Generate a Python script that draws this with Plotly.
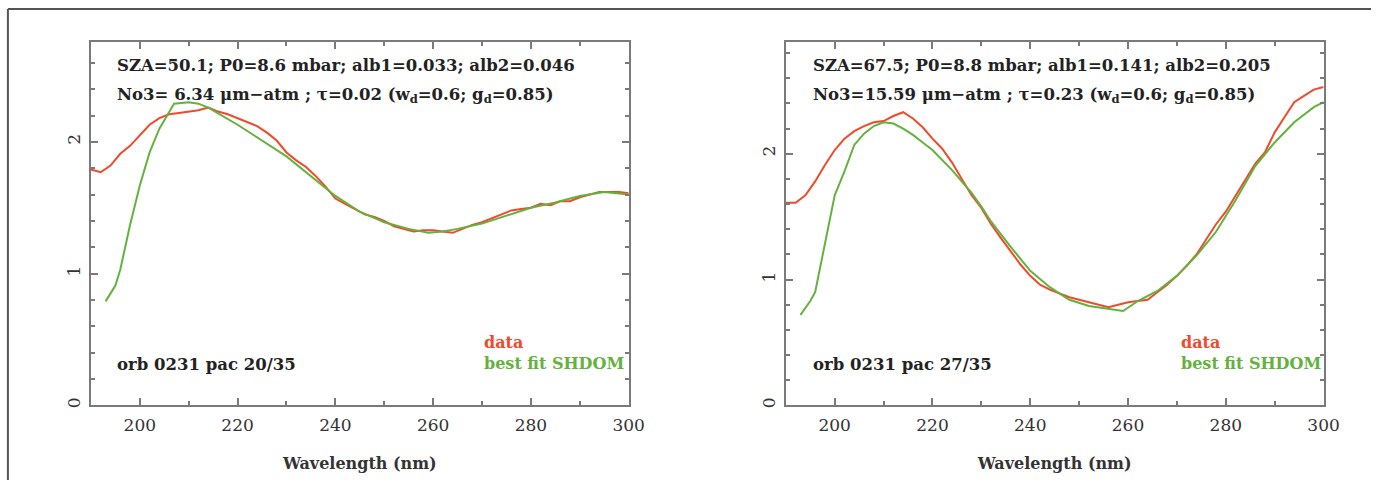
import plotly.graph_objects as go

# ---- Panel A: orb 0231 pac 20/35 ----
wl_data_a = [190, 192, 194, 196, 198, 200, 202, 204, 206, 208, 210, 212, 214, 216, 218, 220,
             222, 224, 226, 228, 230, 232, 234, 236, 238, 240, 242, 244, 246, 248, 250, 252,
             254, 256, 258, 260, 262, 264, 266, 268, 270, 272, 274, 276, 278, 280, 282, 284,
             286, 288, 290, 292, 294, 296, 298, 300]
val_data_a = [1.79, 1.77, 1.82, 1.91, 1.97, 2.05, 2.13, 2.18, 2.21, 2.22, 2.23, 2.24, 2.26, 2.23,
              2.21, 2.18, 2.15, 2.12, 2.07, 2.01, 1.92, 1.86, 1.81, 1.74, 1.66, 1.57, 1.53, 1.49,
              1.45, 1.43, 1.40, 1.36, 1.34, 1.32, 1.33, 1.33, 1.32, 1.31, 1.34, 1.37, 1.39, 1.42,
              1.45, 1.48, 1.49, 1.50, 1.53, 1.52, 1.55, 1.55, 1.58, 1.60, 1.62, 1.62, 1.62, 1.61]
wl_fit_a = [193, 195, 196, 198, 200, 202, 204, 206, 207, 210, 212, 214, 220, 230, 240, 245,
            250, 255, 259, 262, 265, 270, 275, 280, 285, 290, 295, 300]
val_fit_a = [0.79, 0.91, 1.03, 1.37, 1.67, 1.92, 2.10, 2.22, 2.29, 2.30, 2.29, 2.26, 2.13, 1.89,
             1.59, 1.47, 1.39, 1.34, 1.31, 1.32, 1.34, 1.38, 1.44, 1.50, 1.54, 1.59, 1.62, 1.60]

# ---- Panel B: orb 0231 pac 27/35 ----
wl_data_b = [190, 192, 194, 196, 198, 200, 202, 204, 206, 208, 210, 212, 214, 216, 218, 220,
             222, 224, 226, 228, 230, 232, 234, 236, 238, 240, 242, 244, 246, 248, 250, 252,
             254, 256, 258, 260, 262, 264, 266, 268, 270, 272, 274, 276, 278, 280, 282, 284,
             286, 288, 290, 292, 294, 296, 298, 300]
val_data_b = [1.61, 1.61, 1.67, 1.78, 1.91, 2.03, 2.12, 2.18, 2.22, 2.25, 2.26, 2.30, 2.33, 2.28,
              2.21, 2.12, 2.04, 1.93, 1.80, 1.67, 1.57, 1.44, 1.33, 1.22, 1.12, 1.03, 0.96, 0.92,
              0.89, 0.86, 0.84, 0.82, 0.80, 0.78, 0.80, 0.82, 0.83, 0.84, 0.90, 0.96, 1.03, 1.11,
              1.20, 1.32, 1.44, 1.54, 1.67, 1.79, 1.92, 2.01, 2.17, 2.29, 2.41, 2.46, 2.51, 2.53]
wl_fit_b = [193, 195, 196, 198, 200, 202, 204, 206, 208, 210, 212, 214, 216, 218, 220, 224,
            228, 230, 232, 236, 240, 244, 248, 252, 256, 259, 262, 266, 270, 274, 278, 282,
            286, 290, 294, 298, 300]
val_fit_b = [0.72, 0.83, 0.90, 1.30, 1.67, 1.86, 2.07, 2.16, 2.22, 2.25, 2.24, 2.20, 2.15, 2.09,
             2.03, 1.87, 1.69, 1.58, 1.46, 1.26, 1.07, 0.94, 0.84, 0.79, 0.77, 0.75, 0.83, 0.91,
             1.03, 1.19, 1.38, 1.63, 1.90, 2.09, 2.25, 2.37, 2.41]

y_max = [2.76, 2.89]

W, H = 1387, 483
RED = "#ef4a2b"
GREEN = "#63b23d"
AXIS_GRAY = "#7a7a7a"
TEXT_FONT = "DejaVu Serif"

fig = go.Figure()

panels = [
    dict(xa="x", ya="y", wd=wl_data_a, vd=val_data_a, wf=wl_fit_a, vf=val_fit_a),
    dict(xa="x2", ya="y2", wd=wl_data_b, vd=val_data_b, wf=wl_fit_b, vf=val_fit_b),
]
for p in panels:
    fig.add_trace(go.Scatter(x=p["wd"], y=p["vd"], mode="lines", xaxis=p["xa"], yaxis=p["ya"],
                             line=dict(color=RED, width=2), showlegend=False))
    fig.add_trace(go.Scatter(x=p["wf"], y=p["vf"], mode="lines", xaxis=p["xa"], yaxis=p["ya"],
                             line=dict(color=GREEN, width=2), showlegend=False))

y_dom = [1 - 408 / H, 1 - 42 / H]
x_doms = [[92 / W, 636 / W], [795 / W, 1339 / W]]

common_x = dict(range=[190, 300], tick0=200, dtick=20, ticks="inside", ticklen=7, tickwidth=2,
                tickcolor=AXIS_GRAY, showline=True, linecolor=AXIS_GRAY, linewidth=2,
                mirror="ticks", showgrid=False, zeroline=False, ticklabelstandoff=3,
                tickfont=dict(family=TEXT_FONT, size=17, color="#333"),
                minor=dict(dtick=10, tick0=200, ticks="inside", ticklen=4, tickwidth=2,
                           tickcolor=AXIS_GRAY, showgrid=False),
                title=dict(text="Wavelength (nm)", standoff=24,
                           font=dict(family=TEXT_FONT, size=16, color="#333", weight="bold")))
common_y = dict(tick0=0, dtick=1, ticks="inside", ticklen=7, tickwidth=2, tickcolor=AXIS_GRAY,
                showline=True, linecolor=AXIS_GRAY, linewidth=2, mirror="ticks",
                showgrid=False, zeroline=False, tickangle=-90, ticklabelstandoff=2,
                tickfont=dict(family=TEXT_FONT, size=17, color="#333"),
                minor=dict(dtick=0.2, ticks="inside", ticklen=4, tickwidth=2,
                           tickcolor=AXIS_GRAY, showgrid=False))

fig.update_layout(
    xaxis=dict(domain=x_doms[0], anchor="y", **common_x),
    yaxis=dict(domain=y_dom, anchor="x", range=[0, y_max[0]], **common_y),
    xaxis2=dict(domain=x_doms[1], anchor="y2", **common_x),
    yaxis2=dict(domain=y_dom, anchor="x2", range=[0, y_max[1]], **common_y),
)

# panel annotations
info = [
    ("SZA=50.1; P0=8.6 mbar; alb1=0.033; alb2=0.046",
     "No3= 6.34 μm−atm ; τ=0.02 (w<sub>d</sub>=0.6; g<sub>d</sub>=0.85)",
     "orb 0231 pac 20/35"),
    ("SZA=67.5; P0=8.8 mbar; alb1=0.141; alb2=0.205",
     "No3=15.59 μm−atm ; τ=0.23 (w<sub>d</sub>=0.6; g<sub>d</sub>=0.85)",
     "orb 0231 pac 27/35"),
]
text_left = [116, 820]
legend_left = [488, 1193]
annos = []
for i, (l1, l2, orb) in enumerate(info):
    x0 = text_left[i] / W
    for txt, ypx in [(l1, 66), (l2, 96), (orb, 367)]:
        annos.append(dict(text=txt, x=x0, y=1 - ypx / H, xref="paper", yref="paper",
                          xanchor="left", yanchor="middle", showarrow=False,
                          font=dict(family=TEXT_FONT, size=16.5, color="#222", weight="bold")))
    xl = legend_left[i] / W
    annos.append(dict(text="data", x=xl, y=1 - 345 / H, xref="paper", yref="paper",
                      xanchor="left", yanchor="middle", showarrow=False,
                      font=dict(family=TEXT_FONT, size=16, color=RED, weight="bold")))
    annos.append(dict(text="best fit SHDOM", x=xl, y=1 - 366 / H, xref="paper",
                      yref="paper", xanchor="left", yanchor="middle", showarrow=False,
                      font=dict(family=TEXT_FONT, size=16, color=GREEN, weight="bold")))

# outer frame (top and left edges)
shapes = [
    dict(type="line", xref="paper", yref="paper", x0=8 / W, x1=1, y0=1 - 9 / H, y1=1 - 9 / H,
         line=dict(color="#555", width=2)),
    dict(type="line", xref="paper", yref="paper", x0=8 / W, x1=8 / W, y0=0, y1=1 - 9 / H,
         line=dict(color="#555", width=2)),
]

fig.update_layout(width=W, height=H, margin=dict(l=0, r=0, t=0, b=0),
                  paper_bgcolor="white", plot_bgcolor="white",
                  annotations=annos, shapes=shapes)

fig.write_html("out.html")
